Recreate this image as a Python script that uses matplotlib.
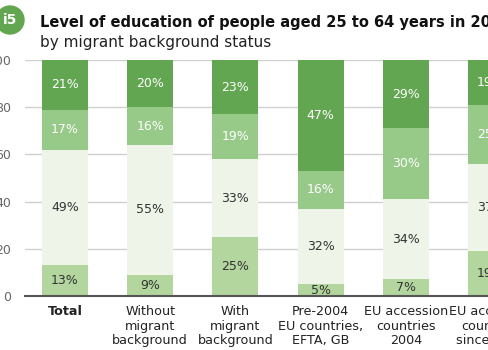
import numpy as np
import matplotlib.pyplot as plt
from matplotlib.patches import Ellipse

categories = ['Total', 'Without\nmigrant\nbackground', 'With\nmigrant\nbackground',
              'Pre-2004\nEU countries,\nEFTA, GB', 'EU accession\ncountries\n2004',
              'EU accession\ncountries\nsince 2007']
# stacked from the bottom up
low = [13, 9, 25, 5, 7, 19]
medium_low = [49, 55, 33, 32, 34, 37]
medium_high = [17, 16, 19, 16, 30, 25]
high = [21, 20, 23, 47, 29, 19]

colors = ['#b2d69e', '#eef5e8', '#97c988', '#63a651']
text_colors = ['#333333', '#333333', 'white', 'white']

plt.rcParams['font.family'] = ['DejaVu Sans']

W, H = 489, 350
fig = plt.figure(figsize=(W / 100, H / 100), dpi=100)
ax = fig.add_axes([25 / W, 54 / H, 1 - 25 / W, 236 / H])

x = np.arange(len(categories))
bottom = np.zeros(len(categories))
for vals, c, tc in zip([low, medium_low, medium_high, high], colors, text_colors):
	vals = np.array(vals)
	ax.bar(x, vals, 0.54, bottom=bottom, color=c, zorder=2)
	for xi, b, v in zip(x, bottom, vals):
		ax.text(xi, b + v / 2, '%d%%' % v, ha='center', va='center',
				fontsize=9, color=tc, zorder=3, clip_on=False)
	bottom = bottom + vals

ax.set_xlim(-0.47, 4.977)
ax.set_ylim(0, 100)
ax.set_yticks([0, 20, 40, 60, 80, 100])
ax.set_yticklabels(['0', '20', '40', '60', '80', '100'], color='#666666', fontsize=9)
ax.tick_params(axis='y', length=0, pad=10)
ax.tick_params(axis='x', length=0)
ax.set_xticks([])
ax.grid(axis='y', color='#d0d0d0', linewidth=1, zorder=0)
for s in ['top', 'right', 'left']:
	ax.spines[s].set_visible(False)
ax.spines['bottom'].set_color('#555555')
ax.spines['bottom'].set_linewidth(1.5)
ax.spines['bottom'].set_zorder(4)

for xi, lab in zip(x, categories):
	ax.text(xi, -4, lab, ha='center', va='top', fontsize=9.2, color='#222222',
			fontweight='bold' if lab == 'Total' else 'normal',
			linespacing=1.12, clip_on=False)

fig.text(40 / W, 1 - 22 / H, 'Level of education of people aged 25 to 64 years in 2021',
		 fontsize=10.5, fontweight='bold', color='#111111', va='center')
fig.text(40 / W, 1 - 42 / H, 'by migrant background status',
		 fontsize=11, color='#222222', va='center')

badge = Ellipse((10 / W, 1 - 20 / H), 28 / W, 28 / H, transform=fig.transFigure,
				color='#63a651', clip_on=False)
fig.patches.append(badge)
fig.text(10 / W, 1 - 20 / H, 'i5', fontsize=10, fontweight='bold', color='white',
		 ha='center', va='center')

fig.savefig('out.png', dpi=100)
